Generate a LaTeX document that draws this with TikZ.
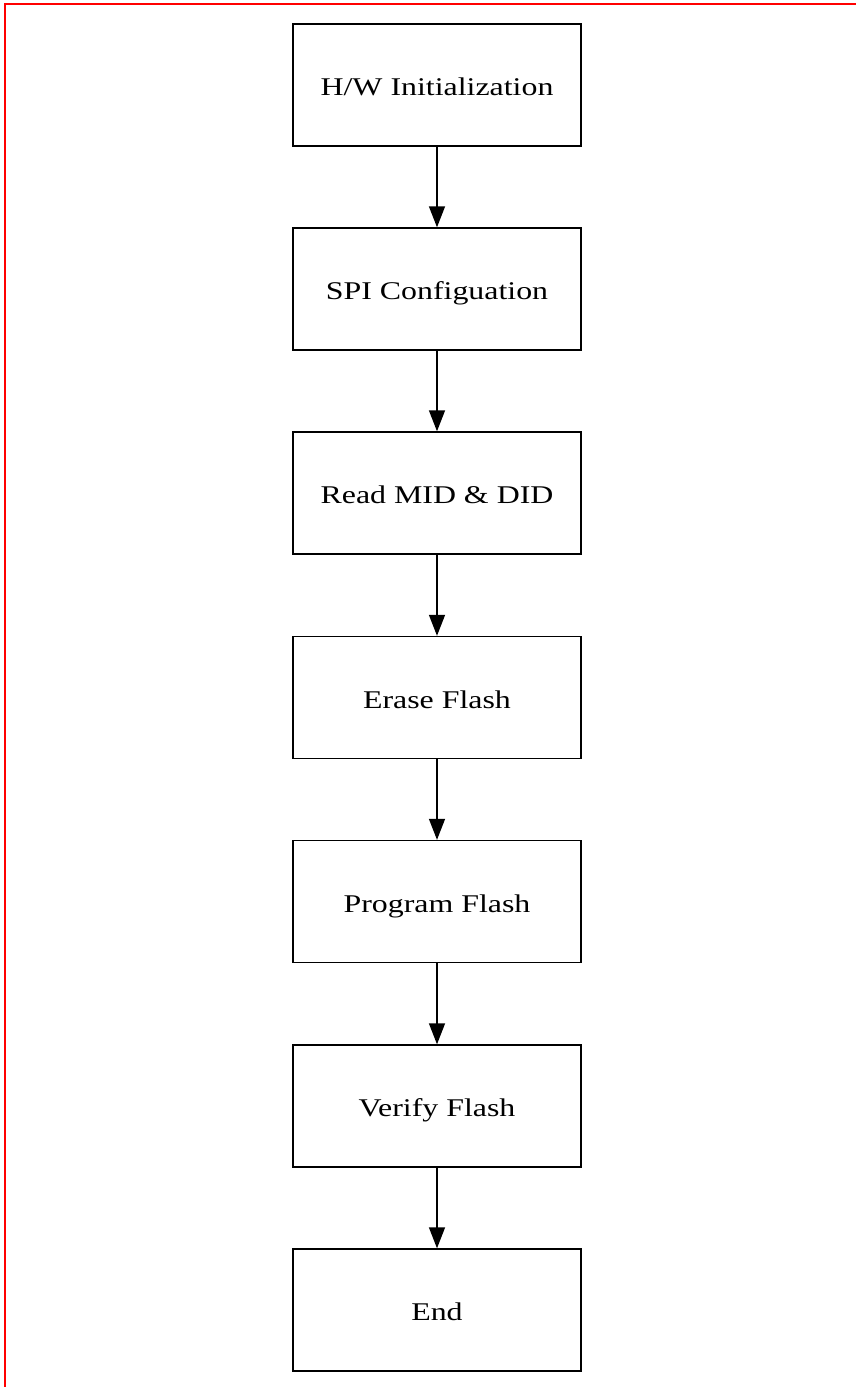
\documentclass[tikz,border=0pt]{standalone}
\usepackage{fontspec}
\setmainfont{Liberation Serif}
\usetikzlibrary{arrows.meta}
\begin{document}
\begin{tikzpicture}[x=1pt,y=-1pt,
  stepbox/.style={draw=black, line width=1.4pt, minimum width=288pt, minimum height=122pt, inner sep=0pt, text height=27pt, text depth=6pt, font=\fontsize{25.5}{30}\selectfont},
  flow/.style={line width=1.4pt, -{Triangle[length=21pt,width=16pt]}}]
\useasboundingbox (0,0) rectangle (856,1387);
\draw[red, line width=1.6pt] (5,1387) -- (5,4) -- (856,4);
\newcommand{\wtxt}[1]{\scalebox{1.25}[1]{#1}}
\node[stepbox] (n1) at (437,85) {\wtxt{H/W Initialization}};
\node[stepbox] (n2) at (437,289) {\wtxt{SPI Configuation}};
\node[stepbox] (n3) at (437,493) {\wtxt{Read MID \& DID}};
\node[stepbox] (n4) at (437,697.5) {\wtxt{Erase Flash}};
\node[stepbox] (n5) at (437,901.5) {\wtxt{Program Flash}};
\node[stepbox] (n6) at (437,1106) {\wtxt{Verify Flash}};
\node[stepbox] (n7) at (437,1310) {\wtxt{End}};
\draw[flow] (n1) -- (n2);
\draw[flow] (n2) -- (n3);
\draw[flow] (n3) -- (n4);
\draw[flow] (n4) -- (n5);
\draw[flow] (n5) -- (n6);
\draw[flow] (n6) -- (n7);
\end{tikzpicture}
\end{document}
